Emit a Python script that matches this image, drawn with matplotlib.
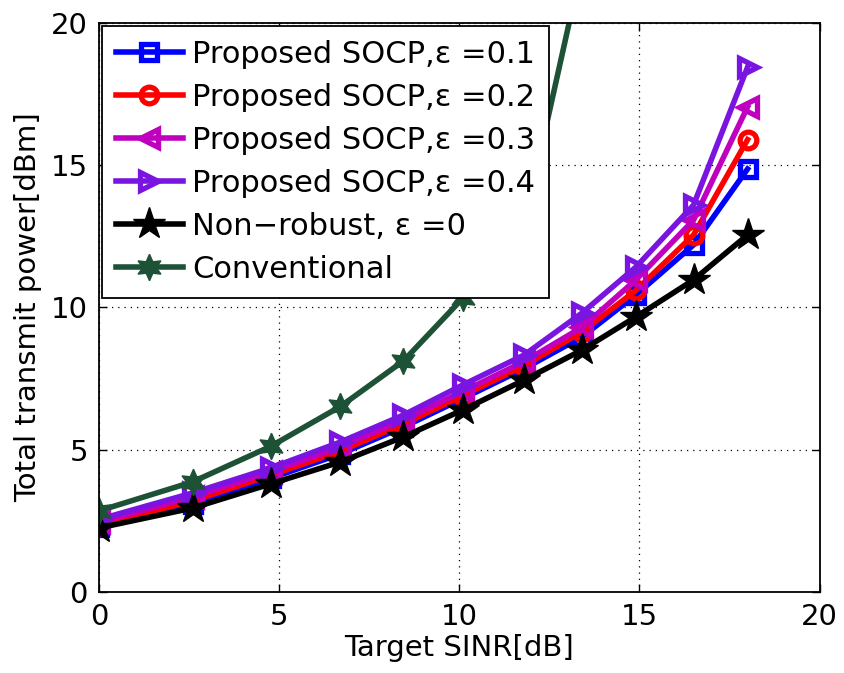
import matplotlib
matplotlib.use("Agg")
import matplotlib.pyplot as plt

sinr_db = [0, 2.6, 4.77, 6.7, 8.45, 10.1, 11.8, 13.4, 14.9, 16.5, 18.0]

socp_01 = [2.30, 3.10, 4.00, 4.85, 5.80, 6.80, 7.85, 8.96, 10.44, 12.20, 14.87]
socp_02 = [2.35, 3.20, 4.10, 4.95, 5.90, 6.90, 7.95, 9.14, 10.60, 12.55, 15.90]
socp_03 = [2.45, 3.35, 4.22, 5.10, 6.05, 7.05, 8.10, 9.30, 10.97, 13.07, 17.05]
socp_04 = [2.55, 3.48, 4.36, 5.27, 6.22, 7.28, 8.33, 9.80, 11.42, 13.60, 18.45]
nonrobust = [2.25, 2.95, 3.80, 4.57, 5.45, 6.40, 7.45, 8.50, 9.67, 10.97, 12.55]
conv_x = [0, 2.6, 4.77, 6.7, 8.45, 10.1, 11.8, 13.4]
conventional = [2.85, 3.87, 5.12, 6.52, 8.12, 10.33, 12.9, 22.0]

labels = ["Proposed SOCP,\u03b5 =0.1", "Proposed SOCP,\u03b5 =0.2",
          "Proposed SOCP,\u03b5 =0.3", "Proposed SOCP,\u03b5 =0.4",
          "Non\u2212robust, \u03b5 =0", "Conventional"]

plt.rcParams['font.family'] = ['DejaVu Sans']

fig = plt.figure(figsize=(8.45, 6.73), dpi=100)
ax = fig.add_axes([0.117, 0.1204, 0.853, 0.8454])

lw = 4.0
mew = 3.8
ax.plot(sinr_db, socp_01, color='#0000ff', lw=lw, marker='s', ms=11, mfc='none', mew=mew, label=labels[0])
ax.plot(sinr_db, socp_02, color='#ff0000', lw=lw, marker='o', ms=12, mfc='none', mew=mew, label=labels[1])
ax.plot(sinr_db, socp_03, color='#bf00bf', lw=lw, marker='<', ms=13, mfc='none', mew=mew, label=labels[2])
ax.plot(sinr_db, socp_04, color='#7a14e0', lw=lw, marker='>', ms=13, mfc='none', mew=mew, label=labels[3])
ax.plot(sinr_db, nonrobust, color='black', lw=lw, marker='*', ms=24, mew=1, label=labels[4])
ax.plot(conv_x, conventional, color='#1e5236', lw=lw, marker=(6, 1, 0), ms=19, mew=1, label=labels[5])

ax.set_xlim(0, 20)
ax.set_ylim(0, 20)
ax.set_xticks([0, 5, 10, 15, 20])
ax.set_yticks([0, 5, 10, 15, 20])
ax.grid(True, linestyle=(0, (1, 4)), color='black', linewidth=0.9)
ax.tick_params(direction='in', length=6, width=1, labelsize=21, top=True, right=True, pad=8)
for s in ax.spines.values():
    s.set_linewidth(1.3)

ax.set_xlabel("Target SINR[dB]", fontsize=21, labelpad=2)
ax.set_ylabel("Total transmit power[dBm]", fontsize=21, labelpad=6)

leg = ax.legend(loc='upper left', fontsize=22, handlelength=2.2, handletextpad=0.3,
                borderaxespad=0.1, borderpad=0.45, labelspacing=0.46, frameon=True,
                fancybox=False, edgecolor='black', framealpha=1)
leg.get_frame().set_linewidth(1.3)
leg.set_zorder(10)

fig.savefig("out.png", dpi=100)
